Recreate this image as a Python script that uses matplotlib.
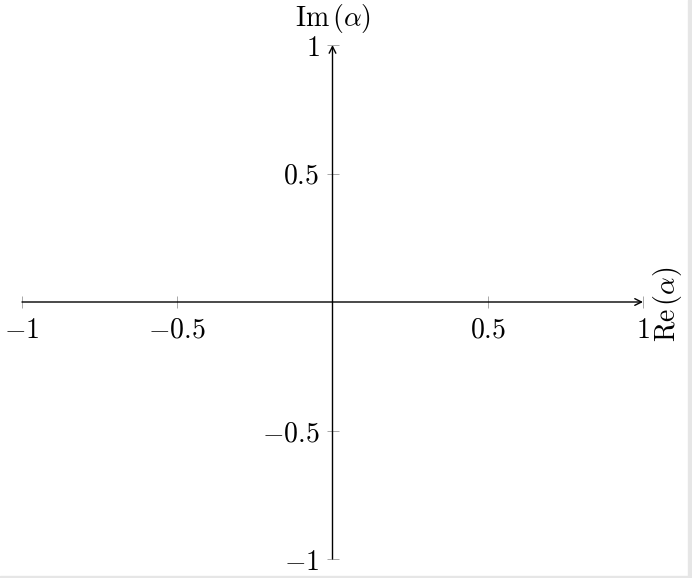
import matplotlib
matplotlib.use("Agg")
import matplotlib.pyplot as plt
from matplotlib.patches import Rectangle

plt.rcParams["mathtext.fontset"] = "cm"
plt.rcParams["font.family"] = ["DejaVu Serif"]

# axis ranges and tick values (0 carries no label)
X_RANGE = [-1, 1]
Y_RANGE = [-1, 1]
X_TICKS = [-1, -0.5, 0.5, 1]
Y_TICKS = [-1, -0.5, 0.5, 1]
X_TICK_LABELS = [r"$-1$", r"$-0.5$", r"$0.5$", r"$1$"]
Y_TICK_LABELS = [r"$-1$", r"$-0.5$", r"$0.5$", r"$1$"]
X_LABEL = r"$\mathrm{Re}\,(\alpha)$"
Y_LABEL = r"$\mathrm{Im}\,(\alpha)$"

W, H = 692, 578
fig = plt.figure(figsize=(W / 100, H / 100), dpi=100)
ax = fig.add_axes([22 / W, 19 / H, 621 / W, 514 / H])
ax.set_xlim(*X_RANGE)
ax.set_ylim(*Y_RANGE)

for side in ("top", "right"):
    ax.spines[side].set_visible(False)
for side in ("left", "bottom"):
    ax.spines[side].set_position("zero")
    ax.spines[side].set_visible(False)

ax.set_xticks(X_TICKS)
ax.set_xticklabels(X_TICK_LABELS)
ax.set_yticks(Y_TICKS)
ax.set_yticklabels(Y_TICK_LABELS)
ax.tick_params(direction="inout", length=9, width=0.6, color="#9a9a9a",
               labelsize=20, pad=5)
ax.tick_params(axis="x", pad=6)

# axis lines with arrow heads
arrow = dict(arrowstyle="->", lw=1.0, color="black", shrinkA=0, shrinkB=0,
             mutation_scale=12)
ax.annotate("", xy=(X_RANGE[1], 0), xytext=(X_RANGE[0], 0),
            arrowprops=arrow, annotation_clip=False)
ax.annotate("", xy=(0, Y_RANGE[1]), xytext=(0, Y_RANGE[0]),
            arrowprops=arrow, annotation_clip=False)

ax.text(0, Y_RANGE[1] + 0.04, Y_LABEL, ha="center", va="bottom", fontsize=20,
        clip_on=False)
ax.text(X_RANGE[1] + 0.08, -0.01, X_LABEL, ha="center", va="center", rotation=90,
        fontsize=20, clip_on=False)

# light frame at the right and bottom edges
fig.patches.append(Rectangle((688 / W, 0), 4 / W, 1, transform=fig.transFigure,
                             color="#e6e6e6", zorder=-1))
fig.patches.append(Rectangle((0, 0), 1, 2 / H, transform=fig.transFigure,
                             color="#e6e6e6", zorder=-1))

fig.savefig("out.png", dpi=100, facecolor="white")
